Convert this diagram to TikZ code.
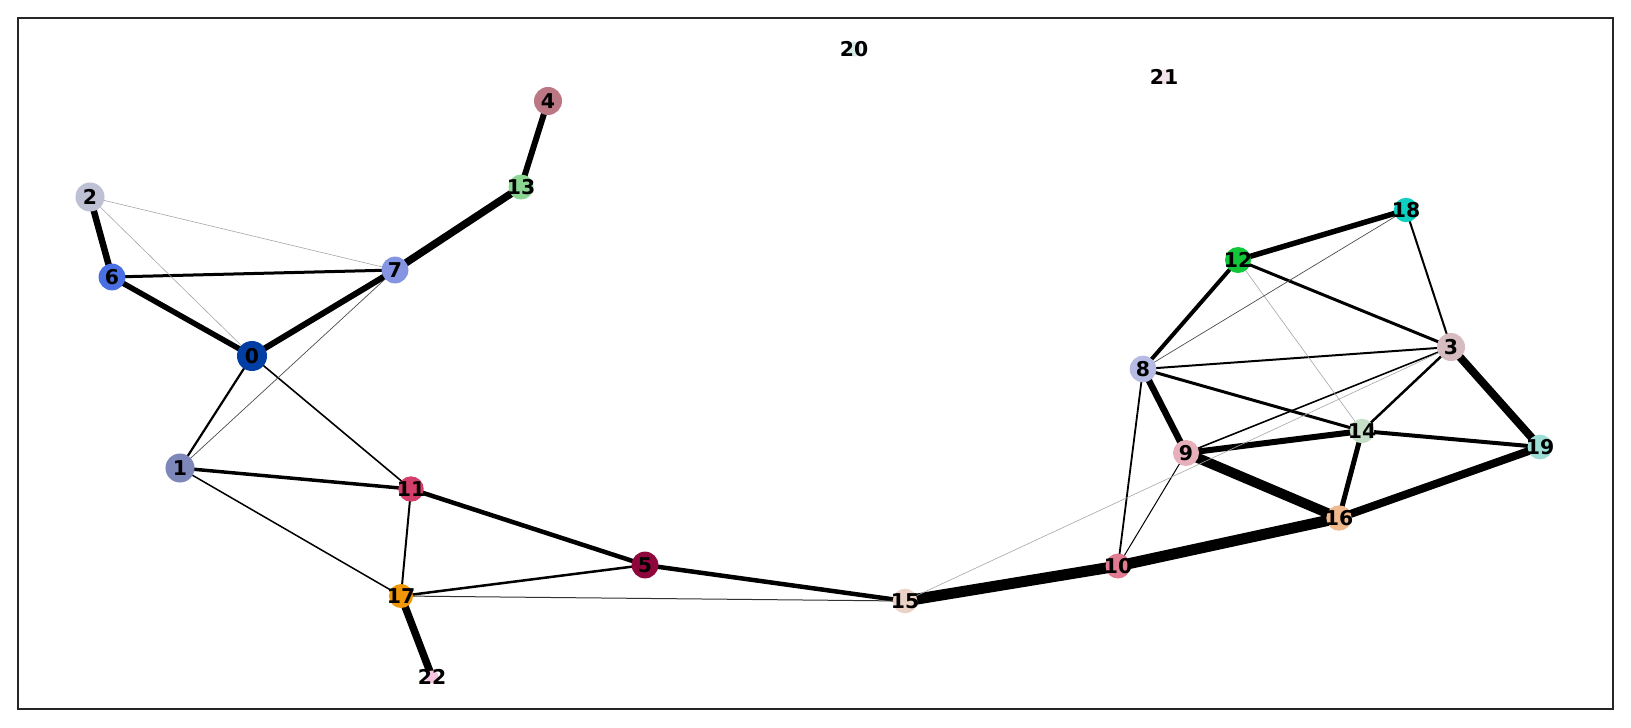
\documentclass[tikz,border=0pt]{standalone}
\usepackage{fontspec}
\setmainfont{DejaVu Sans}
\usetikzlibrary{backgrounds}

% group colours
\definecolor{c0}{HTML}{023FA5}
\definecolor{c1}{HTML}{7D87B9}
\definecolor{c2}{HTML}{BEC1D4}
\definecolor{c3}{HTML}{D6BCC0}
\definecolor{c4}{HTML}{BB7784}
\definecolor{c5}{HTML}{8E063B}
\definecolor{c6}{HTML}{4A6FE3}
\definecolor{c7}{HTML}{8595E1}
\definecolor{c8}{HTML}{B5BBE3}
\definecolor{c9}{HTML}{E6AFB9}
\definecolor{c10}{HTML}{E07B91}
\definecolor{c11}{HTML}{D33F6A}
\definecolor{c12}{HTML}{11C638}
\definecolor{c13}{HTML}{8DD593}
\definecolor{c14}{HTML}{C6DEC7}
\definecolor{c15}{HTML}{EAD3C6}
\definecolor{c16}{HTML}{F0B98D}
\definecolor{c17}{HTML}{EF9708}
\definecolor{c18}{HTML}{0FCFC0}
\definecolor{c19}{HTML}{9CDED6}
\definecolor{c20}{HTML}{D5EAE7}
\definecolor{c21}{HTML}{F3E1EB}
\definecolor{c22}{HTML}{F6C4E1}

\begin{document}
\begin{tikzpicture}[x=0.01cm, y=-0.01cm,
		dot/.style={circle, fill=#1, inner sep=0pt},
		lab/.style={inner sep=0pt, font=\bfseries\fontsize{5.8}{7}\selectfont},
		edge/.style={line width=#1*0.01cm, black}]
		\useasboundingbox (0,0) rectangle (1631,727);
		
		% Frame
		\draw[line width=0.014cm, black!85] (18,18) rectangle (1613,709);
		
		% Groups
		\foreach \i/\x/\y/\r in {0/252/356/15, 1/180/468/14.5, 2/90/197/14.5, 3/1451/347/14,
			4/548/101/14, 5/645/565/13.4, 6/112/277/13.4, 7/395/270/13.4, 8/1143/369/13.3,
			9/1186/453/13, 10/1118/566/12.5, 11/411/489/12.7, 12/1238/260/13, 13/521/187/12.5,
			14/1362/431/12.2, 15/905/601/12.3, 16/1339/518/12.7, 17/401/596/12, 18/1406/210/12.2,
			19/1540/447/12.4, 20/854/49/7.5, 21/1164/77/7.5, 22/432/677/6.5} {
			\node[dot=c\i, minimum size=\r*0.02cm, label={[lab]center:\i}] (n\i) at (\x,\y) {};
		}
		
		\begin{scope}[on background layer]
			% Connections
			\foreach \a/\b/\w in {4/13/6, 13/7/7.5, 7/0/6, 6/0/5.5, 2/6/6.5, 6/7/3, 0/1/2.2,
				0/11/1.6, 1/11/3.5, 1/17/1.5, 11/17/2, 11/5/4.5, 17/5/2.5, 17/22/7.5, 5/15/4.5,
				15/10/11, 10/16/11, 10/8/1.8, 10/9/1, 8/12/4, 8/9/6.5, 8/3/2, 8/14/3, 12/18/5.5,
				12/3/3, 18/3/2, 3/14/2.5, 3/19/8, 3/9/1.6, 9/14/6, 9/16/10, 14/16/5, 14/19/4,
				16/19/8} {
				\draw[edge=\w] (n\a.center) -- (n\b.center);
			}
			
			% Weak connections
			\foreach \a/\b/\w/\g in {2/7/0.6/35, 2/0/0.6/35, 12/14/0.6/35, 15/3/0.6/35,
				7/1/0.7/70, 8/18/0.7/70, 17/15/1/80} {
				\draw[edge=\w, black!\g] (n\a.center) -- (n\b.center);
			}
		\end{scope}
		
	\end{tikzpicture}
\end{document}
